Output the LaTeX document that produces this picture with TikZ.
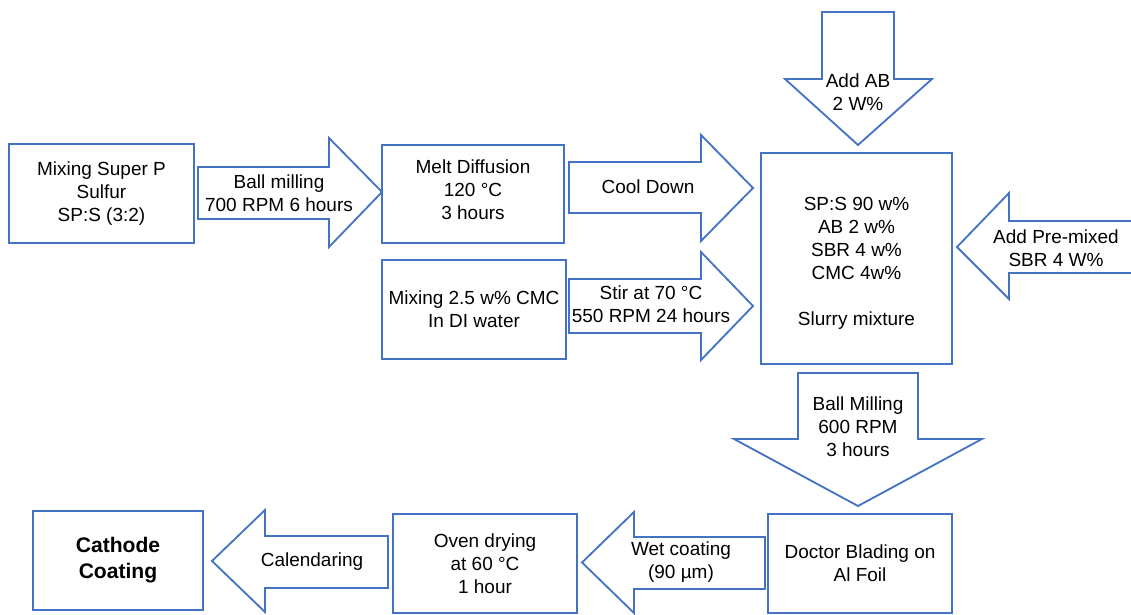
\documentclass[tikz,border=0pt]{standalone}
\usepackage{fontspec}
\setmainfont{Liberation Sans}
\usetikzlibrary{positioning}
\definecolor{flowBlue}{HTML}{4472C4}

\begin{document}
\begin{tikzpicture}[
  x=0.025cm, y=-0.025cm,
  font=\fontsize{13.5}{16.4}\selectfont,
  box/.style={draw=flowBlue, line width=1.3pt, inner sep=0pt, align=center},
  blk/.style={draw=flowBlue, line width=1.3pt, line join=miter},
  lbl/.style={align=center, inner sep=1pt, text=black},
]
\useasboundingbox (0,0) rectangle (1131,615);

% ============================== top rows =====================================
\node[box, minimum width=4.625cm, minimum height=2.475cm] (mix) at (101.5,193.5)
  {Mixing Super P\\Sulfur\\SP:S (3:2)};
\node[box, minimum width=4.55cm, minimum height=2.45cm] (melt) at (473,194)
  {Melt Diffusion\\120 °C\\3 hours\\[-10.6pt]};
\node[box, minimum width=4.6cm, minimum height=2.475cm] (cmc) at (474,309.5)
  {Mixing 2.5 w\% CMC\\In DI water};
\node[box, minimum width=4.775cm, minimum height=5.275cm] (slurry) at (856.5,258.5) {};
\node[lbl] (slurrytxt) at (856.5,263)
  {SP:S 90 w\%\\AB 2 w\%\\SBR 4 w\%\\CMC 4w\%\\[16.4pt]Slurry mixture};

% block arrows into the melt and the slurry
\draw[blk] (198,167) -- (329,167) -- (329,138) -- (382,192) -- (329,247)
  -- (329,219) -- (198,219) -- cycle;
\node[lbl] (ball) at (279,193) {Ball milling\\700 RPM 6 hours};

\draw[blk] (569,162) -- (701,162) -- (701,135) -- (753,188) -- (701,241)
  -- (701,213) -- (569,213) -- cycle;
\node[lbl] (cool) at (648,187) {Cool Down};

\draw[blk] (569,279) -- (701,279) -- (701,252) -- (753,306) -- (701,360)
  -- (701,333) -- (569,333) -- cycle;
\node[lbl] (stir) at (651,304) {Stir at 70 °C\\550 RPM 24 hours};

\draw[blk] (822,12) -- (894,12) -- (894,79) -- (932,79) -- (858,145)
  -- (785,79) -- (822,79) -- cycle;
\node[lbl] (addab) at (858,92) {Add AB\\2 W\%};

% the shaft runs off the right edge, so no end is drawn
\draw[blk] (1131,221) -- (1009,221) -- (1009,193) -- (957,247) -- (1009,299)
  -- (1009,273) -- (1131,273);
\node[lbl] (premix) at (1056,248) {Add Pre-mixed\\SBR 4 W\%};

\draw[blk] (798,373) -- (918,373) -- (918,439) -- (982,439) -- (858,506)
  -- (734,439) -- (798,439) -- cycle;
\node[lbl] (mill) at (858,427) {Ball Milling\\600 RPM\\3 hours};

% ============================== bottom row ===================================
\node[box, minimum width=4.6cm, minimum height=2.475cm] (blade) at (860,563.5)
  {Doctor Blading on\\Al Foil};
\node[box, minimum width=4.6cm, minimum height=2.475cm] (oven) at (485,563.5)
  {Oven drying\\at 60 °C\\1 hour};
\node[box, minimum width=4.25cm, minimum height=2.475cm,
      font=\fontsize{15}{18.4}\selectfont\bfseries] (cathode) at (118,560.5)
  {Cathode\\Coating};

\draw[blk] (765,537) -- (634,537) -- (634,512) -- (582,562.5) -- (634,613)
  -- (634,589) -- (765,589) -- cycle;
\node[lbl] (wet) at (681,562) {Wet coating\\(90 µm)};

\draw[blk] (388,536) -- (265,536) -- (265,510) -- (212,561) -- (265,612)
  -- (265,588) -- (388,588) -- cycle;
\node[lbl] (calend) at (312,562) {Calendaring};
\end{tikzpicture}
\end{document}
